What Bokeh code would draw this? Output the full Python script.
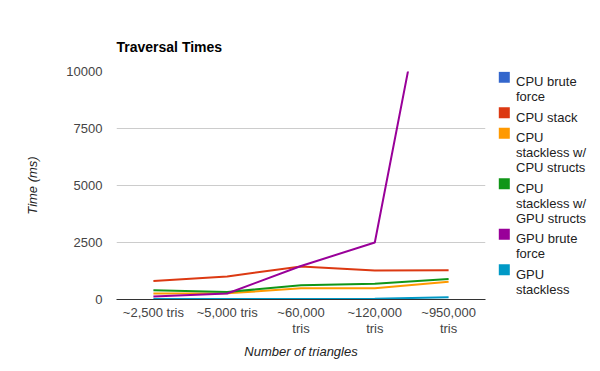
import textwrap
from bokeh.plotting import figure
from bokeh.models import Range1d, FixedTicker, BasicTickFormatter, LinearAxis
from bokeh.layouts import row
from bokeh.embed import file_html
from bokeh.resources import INLINE
from bokeh.core.properties import value

# ---- data ----
categories = ["~2,500 tris", "~5,000 tris", "~60,000 tris", "~120,000 tris", "~950,000 tris"]
tick_labels = ["~2,500 tris", "~5,000 tris", "~60,000\ntris", "~120,000\ntris", "~950,000\ntris"]
series_names = ["CPU brute force", "CPU stack", "CPU stackless w/ CPU structs",
                "CPU stackless w/ GPU structs", "GPU brute force", "GPU stackless"]
cpu_brute_force = [11500, 23000, 276000, 552000, 4370000]
cpu_stack = [810, 1010, 1450, 1270, 1280]
cpu_stackless_cpu_structs = [265, 270, 490, 490, 780]
cpu_stackless_gpu_structs = [410, 325, 630, 690, 900]
gpu_brute_force = [130, 265, 1470, 2500, 19200]
gpu_stackless = [20, 20, 25, 30, 100]
series_values = [cpu_brute_force, cpu_stack, cpu_stackless_cpu_structs,
                 cpu_stackless_gpu_structs, gpu_brute_force, gpu_stackless]
colors = ["#3366cc", "#dc3912", "#ff9900", "#109618", "#990099", "#0099c6"]
y_ticks = [0, 2500, 5000, 7500, 10000]

FONT = "Liberation Sans"

# category positions on a numeric axis
x_pos = list(range(len(categories)))

# layout (page pixels)
FIG_H = 363
FRAME_TOP, FRAME_BOTTOM = 71, 299
BORDER_TOP = FRAME_TOP
BORDER_BOTTOM = FIG_H - FRAME_BOTTOM

# ---- main chart ----
p = figure(x_range=Range1d(-0.5, len(categories) - 0.5), y_range=Range1d(0, 10000),
           width=492, height=FIG_H, output_backend="svg", toolbar_location=None,
           min_border_left=116, min_border_right=7,
           min_border_top=BORDER_TOP, min_border_bottom=BORDER_BOTTOM,
           title="Traversal Times")
p.title.text_font = FONT
p.title.text_font_size = "14px"
p.title.text_font_style = "bold"
p.title.text_color = "#000000"
p.title.align = "left"
p.title.standoff = 33
p.outline_line_color = None
p.background_fill_color = "white"
p.border_fill_color = "white"

p.xgrid.grid_line_color = None
p.ygrid.grid_line_color = "#cccccc"
p.ygrid.ticker = FixedTicker(ticks=y_ticks)

p.yaxis.ticker = FixedTicker(ticks=y_ticks)
p.yaxis.formatter = BasicTickFormatter(use_scientific=False)
p.yaxis.axis_line_color = None
p.yaxis.major_tick_line_color = None
p.yaxis.major_tick_out = 0
p.yaxis.major_tick_in = 0
p.yaxis.minor_tick_line_color = None
p.yaxis.minor_tick_out = 0
p.yaxis.major_label_text_font = FONT
p.yaxis.major_label_text_font_size = "13px"
p.yaxis.major_label_text_color = "#444444"
p.yaxis.major_label_standoff = 14
p.yaxis.axis_label = "Time (ms)"
p.yaxis.axis_label_text_font = FONT
p.yaxis.axis_label_text_font_size = "13px"
p.yaxis.axis_label_text_font_style = "italic"
p.yaxis.axis_label_text_color = "#222222"
p.yaxis.axis_label_standoff = 23

first_lines = [t.split("\n")[0] for t in tick_labels]
second_lines = [t.split("\n")[1] if "\n" in t else "" for t in tick_labels]

p.xaxis.ticker = FixedTicker(ticks=x_pos)
p.xaxis.axis_line_color = "#333333"
p.xaxis.major_tick_line_color = None
p.xaxis.major_tick_out = 0
p.xaxis.major_tick_in = 0
p.xaxis.minor_tick_line_color = None
p.xaxis.minor_tick_out = 0
p.xaxis.major_label_overrides = dict(zip(x_pos, first_lines))
p.xaxis.major_label_text_font = FONT
p.xaxis.major_label_text_font_size = "13px"
p.xaxis.major_label_text_color = "#444444"
p.xaxis.major_label_standoff = 5

ax2 = LinearAxis(ticker=FixedTicker(ticks=x_pos),
                 axis_line_color=None, major_tick_line_color=None,
                 major_tick_out=0, major_tick_in=0,
                 minor_tick_line_color=None, minor_tick_out=0,
                 major_label_overrides=dict(zip(x_pos, second_lines)),
                 major_label_text_font=FONT, major_label_text_font_size="13px",
                 major_label_text_color="#444444", major_label_standoff=-2,
                 axis_label="Number of triangles", axis_label_text_font=FONT,
                 axis_label_text_font_size="13px", axis_label_text_font_style="italic",
                 axis_label_text_color="#222222", axis_label_standoff=5)
p.add_layout(ax2, "below")

for vals, col in zip(series_values, colors):
    p.line(x=x_pos, y=vals, line_color=col, line_width=2)

# ---- legend (separate panel; its frame aligns with the chart frame) ----
LW = 100
lg = figure(width=LW, height=FIG_H, x_range=Range1d(0, LW),
            y_range=Range1d(FRAME_BOTTOM, FRAME_TOP),
            x_axis_type=None, y_axis_type=None, output_backend="svg", toolbar_location=None,
            min_border_left=0, min_border_right=0,
            min_border_top=BORDER_TOP, min_border_bottom=BORDER_BOTTOM)
lg.grid.visible = False
lg.outline_line_color = None
lg.background_fill_color = "white"
lg.border_fill_color = "white"

top = 71.3
sw_l, sw_r, text_x = 6.3, 17.3, 23.5
line_h = 15
lefts, rights, tops, bottoms = [], [], [], []
tx, ty, tt = [], [], []
for name in series_names:
    lines = textwrap.wrap(name, width=12)
    lefts.append(sw_l); rights.append(sw_r); tops.append(top); bottoms.append(top + 11)
    for i, ln in enumerate(lines):
        tx.append(text_x); ty.append(top + 10 + i * line_h); tt.append(ln)
    top += line_h * len(lines) + 5.5
lg.quad(left=lefts, right=rights, top=tops, bottom=bottoms, fill_color=colors, line_color=None)
lg.text(x=tx, y=ty, text=tt, text_font=value(FONT), text_font_size="13px",
        text_color="#222222", text_baseline="alphabetic", text_align="left")

layout = row(p, lg)
open("out.html", "w").write(file_html(layout, INLINE))
